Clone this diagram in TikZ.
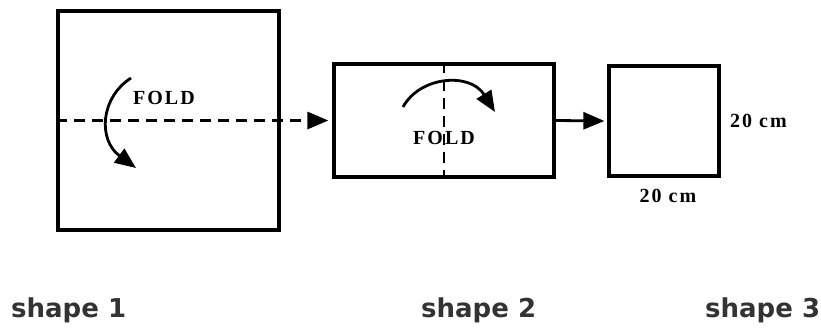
\documentclass[tikz,border=0pt]{standalone}
\usepackage{fontspec}
\setmainfont{Liberation Serif}
\newfontfamily\labelfont{DejaVu Sans}
\newfontfamily\foldfont[LetterSpace=10]{Liberation Serif}
\usetikzlibrary{arrows.meta}
\definecolor{labelgray}{HTML}{333333}
\begin{document}
\begin{tikzpicture}[x=1pt,y=-1pt,
  paper/.style={draw=black,line width=3.2pt,minimum width=#1,inner sep=0pt},
  foldtxt/.style={font=\foldfont\bfseries\fontsize{20}{20}\selectfont,inner sep=0pt},
  cmtxt/.style={font=\foldfont\bfseries\fontsize{20}{20}\selectfont,inner sep=0pt},
  shapelbl/.style={font=\labelfont\bfseries\fontsize{26}{26}\selectfont,text=labelgray,inner sep=0pt,anchor=base west},
  fold/.style={line width=2.8pt,-{Triangle[length=21pt,width=17pt]}},
  link/.style={line width=2.8pt,-{Triangle[length=21pt,width=17pt]}}]
\useasboundingbox (0,0) rectangle (821,327);
% shapes
\node[paper=221pt,minimum height=219pt] (s1) at (168.5,120.5) {};
\node[paper=220pt,minimum height=113pt] (s2) at (444,120.5) {};
\node[paper=110pt,minimum height=110pt] (s3) at (664,121) {};
% dashed fold lines
\draw[line width=2.8pt,dash pattern=on 11pt off 7pt,-{Triangle[length=21pt,width=17pt]},shorten >=4pt] (s1.west) -- (s2.west);
\draw[line width=2.8pt,dash pattern=on 11pt off 7pt] (s2.north) -- (s2.south);
% arrow shape 2 -> shape 3
\draw[link,shorten >=3pt] (s2.east) -- (s3.west);
% curved fold arrows
\coordinate (a1s) at (131,78);
\coordinate (a1e) at (136,168);
\draw[fold] (a1s) .. controls (100,98) and (98,140) .. (a1e);
\coordinate (a2s) at (403,107);
\coordinate (a2e) at (495,112);
\draw[fold] (a2s) .. controls (420,76) and (470,72) .. (a2e);
% texts
\node[foldtxt,anchor=west] (f1) at (133,98) {FOLD};
\node[foldtxt] (f2) at (444,138) {FOLD};
\node[cmtxt,anchor=west] (cm1) at (730,121) {20 cm};
\node[cmtxt] (cm2) at (668,196) {20 cm};
\node[shapelbl] (l1) at (11,317) {shape 1};
\node[shapelbl] (l2) at (421,317) {shape 2};
\node[shapelbl] (l3) at (705,317) {shape 3};
\end{tikzpicture}
\end{document}
